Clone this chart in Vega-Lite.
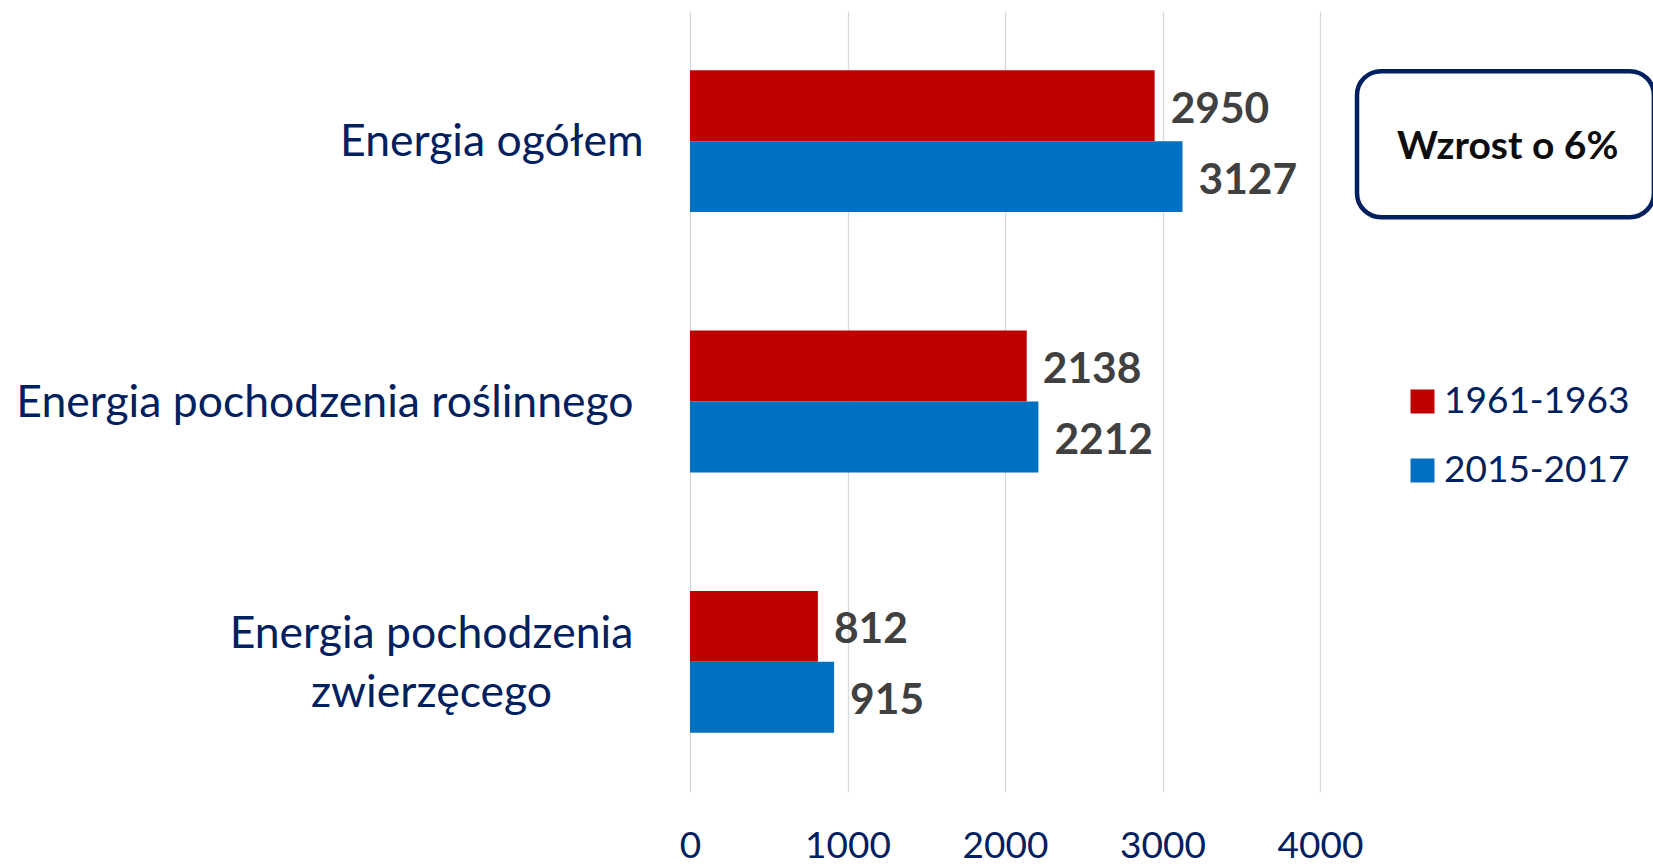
{
  "$schema": "https://vega.github.io/schema/vega-lite/v6.json",
  "autosize": {"type": "none"},
  "width": 630,
  "height": 781,
  "padding": {"left": 690, "top": 11, "right": 333, "bottom": 72},
  "background": "white",
  "config": {"view": {"stroke": null}, "font": "Lato"},
  "data": {"values": [
    {"cat": "Energia ogółem", "period": "1961-1963", "value": 2950},
    {"cat": "Energia ogółem", "period": "2015-2017", "value": 3127},
    {"cat": "Energia pochodzenia roślinnego", "period": "1961-1963", "value": 2138},
    {"cat": "Energia pochodzenia roślinnego", "period": "2015-2017", "value": 2212},
    {"cat": "Energia pochodzenia zwierzęcego", "period": "1961-1963", "value": 812},
    {"cat": "Energia pochodzenia zwierzęcego", "period": "2015-2017", "value": 915}
  ]},
  "layer": [
    {
      "mark": {"type": "bar"},
      "encoding": {
        "y": {
          "field": "cat", "type": "nominal",
          "scale": {"domain": ["Energia ogółem", "Energia pochodzenia roślinnego", "Energia pochodzenia zwierzęcego"], "paddingInner": 0.455, "paddingOuter": 0.2275},
          "axis": {
            "title": null, "domain": false, "ticks": false, "tickSize": 0,
            "labelFont": "Lato", "labelFontSize": 44.5, "labelColor": "#002060",
            "labelLimit": 800, "labelLineHeight": 59,
            "labelExpr": "datum.value == 'Energia pochodzenia zwierzęcego' ? ['Energia pochodzenia', 'zwierzęcego'] : datum.value",
            "labelAlign": {"condition": {"test": "datum.value == 'Energia pochodzenia zwierzęcego'", "value": "center"}, "value": "right"},
            "labelOffset": {"condition": {"test": "datum.value == 'Energia pochodzenia zwierzęcego'", "value": -27}, "value": 2},
            "labelPadding": {"condition": [
              {"test": "datum.value == 'Energia pochodzenia zwierzęcego'", "value": 259},
              {"test": "datum.value == 'Energia pochodzenia roślinnego'", "value": 57}
            ], "value": 47}
          }
        },
        "yOffset": {"field": "period", "type": "nominal", "scale": {"paddingInner": 0, "paddingOuter": 0}},
        "x": {
          "field": "value", "type": "quantitative",
          "scale": {"domain": [0, 4000], "nice": false},
          "axis": {
            "title": null, "values": [0, 1000, 2000, 3000, 4000], "format": "d", "labelFlush": false, "grid": true,
            "gridColor": "#D9D9D9", "gridWidth": 1.3, "domain": false, "ticks": false, "tickSize": 0,
            "labelFont": "Lato", "labelFontSize": 37, "labelColor": "#002060", "labelBaseline": "middle", "labelPadding": 54
          }
        },
        "color": {
          "field": "period", "type": "nominal",
          "scale": {"domain": ["1961-1963", "2015-2017"], "range": ["#C00000", "#0070C0"]},
          "legend": {
            "orient": "none", "legendX": 714, "legendY": 372, "title": null,
            "symbolType": "square", "symbolSize": 576, "symbolStrokeWidth": 0,
            "labelFont": "Lato", "labelFontSize": 37, "labelColor": "#002060", "labelLimit": 400,
            "labelOffset": 3, "rowPadding": 31, "padding": 0
          }
        }
      }
    },
    {
      "mark": {"type": "text", "align": "left", "baseline": "middle", "dx": 16, "dy": 4, "font": "Lato", "fontWeight": "bold", "fontSize": 42.5, "color": "#404040"},
      "encoding": {
        "y": {"field": "cat", "type": "nominal"},
        "yOffset": {"field": "period", "type": "nominal"},
        "x": {"field": "value", "type": "quantitative"},
        "text": {"field": "value", "type": "quantitative", "format": "d"}
      }
    },
    {
      "data": {"values": [{"label": "Wzrost o 6%"}]},
      "mark": {"type": "rect", "fill": "white", "stroke": "#002060", "strokeWidth": 4.5, "cornerRadius": 24, "height": 146, "yOffset": 3},
      "encoding": {
        "y": {"datum": "Energia ogółem", "type": "nominal"},
        "x": {"datum": 4235, "type": "quantitative"},
        "x2": {"datum": 6120}
      }
    },
    {
      "data": {"values": [{"label": "Wzrost o 6%"}]},
      "mark": {"type": "text", "align": "center", "baseline": "middle", "dy": 6, "font": "Lato", "fontWeight": "bold", "fontSize": 39, "color": "#0D0D0D"},
      "encoding": {
        "y": {"datum": "Energia ogółem", "type": "nominal"},
        "x": {"datum": 5192, "type": "quantitative"},
        "text": {"field": "label"}
      }
    }
  ]
}
